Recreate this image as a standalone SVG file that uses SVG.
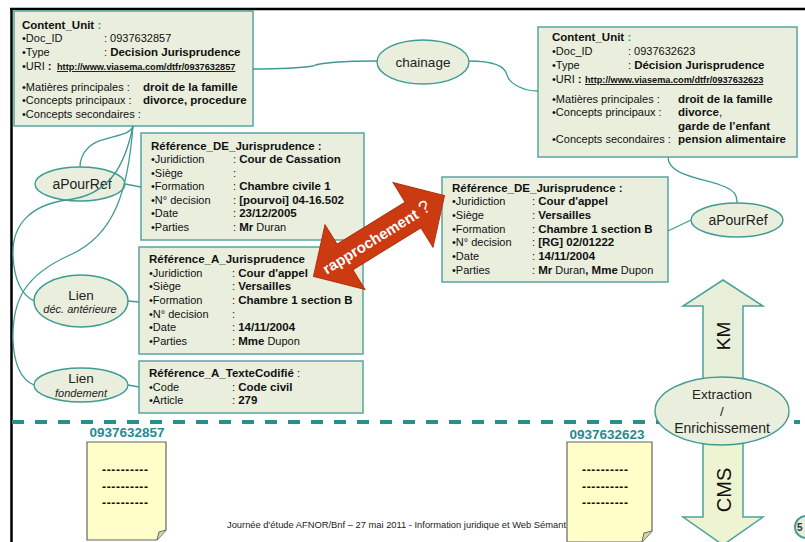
<svg xmlns="http://www.w3.org/2000/svg" width="805" height="542" viewBox="0 0 805 542">
<style>
.box{fill:#e9eedd;stroke:#56a7a0;stroke-width:1.5}
.ell{fill:#e9eedd;stroke:#3f9b94;stroke-width:1.4}
.t{font-family:"Liberation Sans",Arial,sans-serif;font-size:11px;fill:#111}
.b{font-weight:bold;font-size:11.5px}
.url{font-family:"Liberation Sans",Arial,sans-serif;font-weight:bold;font-size:9.2px;text-decoration:underline;fill:#111}
.conn{fill:none;stroke:#3f9b94;stroke-width:1.3}
.el{font-family:"Liberation Sans",Arial,sans-serif;fill:#222;text-anchor:middle}
.doc{fill:#fffdc8;stroke:#666;stroke-width:1.2}
.dash{font-family:"Liberation Sans",Arial,sans-serif;font-size:12px;font-weight:bold;fill:#111;text-anchor:middle}
.lab{font-family:"Liberation Sans",Arial,sans-serif;font-size:13.5px;font-weight:bold;fill:#1f8c8f;text-anchor:middle}
.big{fill:#e8efd9;stroke:#4aa39c;stroke-width:1.5}
</style>

<g id="frame">
<line x1="10" y1="9" x2="805" y2="9" stroke="#000" stroke-width="2.5"/>
<line x1="11.5" y1="8" x2="11.5" y2="542" stroke="#000" stroke-width="2.5"/>
</g>

<g id="content-unit-1">
<rect class="box" x="14" y="11" width="239" height="115"/>
<text class="t" x="22" y="29"><tspan class="b">Content_Unit</tspan><tspan class="b" fill="#2f9a9a"> :</tspan></text>
<text class="t" x="22" y="42">•Doc_ID</text><text class="t" x="104" y="42">: 0937632857</text>
<text class="t" x="22" y="56">•Type</text><text class="t" x="104" y="56">: <tspan class="b">Decision Jurisprudence</tspan></text>
<text class="t" x="22" y="70">•URI <tspan class="b">:</tspan></text><text class="url" x="57" y="70">http://www.viasema.com/dtfr/0937632857</text>
<text class="t" x="22" y="91">•Matières principales :</text><text class="t b" x="143" y="91">droit de la famille</text>
<text class="t" x="22" y="104">•Concepts principaux :</text><text class="t b" x="143" y="104">divorce, procedure</text>
<text class="t" x="22" y="118">•Concepts secondaires :</text>
</g>

<g id="content-unit-2">
<rect class="box" x="538" y="27" width="259" height="130"/>
<text class="t" x="552" y="41"><tspan class="b">Content_Unit</tspan><tspan class="b" fill="#2f9a9a"> :</tspan></text>
<text class="t" x="552" y="55">•Doc_ID</text><text class="t" x="628" y="55">: 0937632623</text>
<text class="t" x="552" y="69">•Type</text><text class="t" x="628" y="69">: <tspan class="b">Décision Jurisprudence</tspan></text>
<text class="t" x="552" y="83">•URI <tspan class="b">:</tspan></text><text class="url" x="585" y="83">http://www.viasema.com/dtfr/0937632623</text>
<text class="t" x="552" y="103">•Matières principales :</text><text class="t b" x="678" y="103">droit de la famille</text>
<text class="t" x="552" y="116">•Concepts principaux :</text><text class="t b" x="678" y="116">divorce<tspan font-weight="normal">,</tspan></text>
<text class="t b" x="678" y="130">garde de l’enfant</text>
<text class="t" x="552" y="143">•Concepts secondaires :</text><text class="t b" x="678" y="143">pension alimentaire</text>
</g>

<g id="ref-de-juris-1">
<rect class="box" x="141" y="133" width="223" height="107"/>
<text class="t b" x="151" y="150">Référence_DE_Jurisprudence :</text>
<text class="t" x="151" y="163">•Juridiction</text><text class="t" x="233" y="163">: <tspan class="b">Cour de Cassation</tspan></text>
<text class="t" x="151" y="177">•Siège</text><text class="t" x="233" y="177">:</text>
<text class="t" x="151" y="190">•Formation</text><text class="t" x="233" y="190">: <tspan class="b">Chambre civile 1</tspan></text>
<text class="t" x="151" y="204">•N° decision</text><text class="t" x="233" y="204">: <tspan class="b">[pourvoi] 04-16.502</tspan></text>
<text class="t" x="151" y="217">•Date</text><text class="t" x="233" y="217">: <tspan class="b">23/12/2005</tspan></text>
<text class="t" x="151" y="231">•Parties</text><text class="t" x="233" y="231">: <tspan class="b">Mr</tspan> Duran</text>
</g>

<g id="ref-a-juris">
<rect class="box" x="139" y="247" width="224" height="107"/>
<text class="t b" x="149" y="263">Référence_A_Jurisprudence</text>
<text class="t" x="149" y="277">•Juridiction</text><text class="t" x="232" y="277">: <tspan class="b">Cour d'appel</tspan></text>
<text class="t" x="149" y="290">•Siège</text><text class="t" x="232" y="290">: <tspan class="b">Versailles</tspan></text>
<text class="t" x="149" y="304">•Formation</text><text class="t" x="232" y="304">: <tspan class="b">Chambre 1 section B</tspan></text>
<text class="t" x="149" y="318">•N° decision</text><text class="t" x="232" y="318">:</text>
<text class="t" x="149" y="331">•Date</text><text class="t" x="232" y="331">: <tspan class="b">14/11/2004</tspan></text>
<text class="t" x="149" y="345">•Parties</text><text class="t" x="232" y="345">: <tspan class="b">Mme</tspan> Dupon</text>
</g>

<g id="ref-a-texte">
<rect class="box" x="139" y="361" width="224" height="52"/>
<text class="t" x="149" y="377"><tspan class="b">Référence_A_TexteCodifié</tspan> :</text>
<text class="t" x="149" y="391">•Code</text><text class="t" x="232" y="391">: <tspan class="b">Code civil</tspan></text>
<text class="t" x="149" y="404">•Article</text><text class="t" x="232" y="404">: <tspan class="b">279</tspan></text>
</g>

<g id="ref-de-juris-2">
<rect class="box" x="442" y="177" width="226" height="105"/>
<text class="t b" x="452" y="192">Référence_DE_Jurisprudence :</text>
<text class="t" x="452" y="205">•Juridiction</text><text class="t" x="532" y="205">: <tspan class="b">Cour d'appel</tspan></text>
<text class="t" x="452" y="219">•Siège</text><text class="t" x="532" y="219">: <tspan class="b">Versailles</tspan></text>
<text class="t" x="452" y="233">•Formation</text><text class="t" x="532" y="233">: <tspan class="b">Chambre 1 section B</tspan></text>
<text class="t" x="452" y="246">•N° decision</text><text class="t" x="532" y="246">: <tspan class="b">[RG] 02/01222</tspan></text>
<text class="t" x="452" y="260">•Date</text><text class="t" x="532" y="260">: <tspan class="b">14/11/2004</tspan></text>
<text class="t" x="452" y="274">•Parties</text><text class="t" x="532" y="274">: <tspan class="b">Mr</tspan> Duran<tspan class="b">, Mme</tspan> Dupon</text>
</g>

<g id="chainage">
<ellipse class="ell" cx="423" cy="62" rx="46" ry="22"/>
<text class="el" x="423" y="67" font-size="13.5">chainage</text>
</g>
<g id="apourref-1">
<ellipse class="ell" cx="80" cy="184" rx="45" ry="17"/>
<text class="el" x="82" y="189" font-size="14">aPourRef</text>
</g>
<g id="lien-dec">
<ellipse class="ell" cx="81" cy="301" rx="47" ry="26"/>
<text class="el" x="81" y="300" font-size="13.5">Lien</text>
<text class="el" x="80" y="313" font-size="11" font-style="italic">déc. antérieure</text>
</g>
<g id="lien-fondement">
<ellipse class="ell" cx="81" cy="385" rx="47" ry="17"/>
<text class="el" x="81" y="383" font-size="13.5">Lien</text>
<text class="el" x="81" y="397" font-size="11" font-style="italic">fondement</text>
</g>
<g id="apourref-2">
<ellipse class="ell" cx="737" cy="220" rx="46" ry="17"/>
<text class="el" x="738" y="225" font-size="14">aPourRef</text>
</g>

<g id="connectors">
<path class="conn" d="M253,69 C290,69 300,68 313,66 C320,63 340,61 377,61"/>
<path class="conn" d="M469,61 C490,61 505,65 507,75 C510,85 525,91 538,91"/>
<path class="conn" d="M133,126 C130,138 100,135 88,148 C82,154 80,160 80,167"/>
<path class="conn" d="M133,126 C125,165 110,195 67,200 C30,205 12,225 13,255 C14,280 22,295 34,301"/>
<path class="conn" d="M133,126 C128,190 115,235 70,255 C25,275 12,300 13,340 C14,365 22,380 34,385"/>
<path class="conn" d="M125,184 L141,187"/>
<path class="conn" d="M128,301 L139,302"/>
<path class="conn" d="M128,385 L139,387"/>
<path class="conn" d="M668,157 C668,175 700,178 720,185 C735,190 737,195 737,203"/>
<path class="conn" d="M691,220 L668,231"/>
</g>

<g id="rapprochement" transform="translate(379,236) rotate(-31.7)">
<polygon points="-77,0 -40,-38 -40,-15 40,-15 40,-38 77,0 40,38 40,15 -40,15 -40,38" fill="#cc3a12" stroke="#b3300c" stroke-width="1"/>
<text x="-3" y="5.5" font-family="Liberation Sans, Arial, sans-serif" font-size="15" font-weight="bold" fill="#fff" text-anchor="middle">rapprochement <tspan font-weight="normal" font-size="18">?</tspan></text>
</g>

<line id="separator" x1="12" y1="422" x2="800" y2="422" stroke="#2a8f8a" stroke-width="4" stroke-dasharray="12 11"/>

<g id="km-arrow">
<polygon class="big" points="723,280 763,306 743,306 743,395 703,395 703,306 683,306"/>
<text transform="translate(730,336) rotate(-90)" font-family="Liberation Sans, Arial, sans-serif" font-size="19" fill="#111" text-anchor="middle">KM</text>
</g>
<g id="cms-arrow">
<polygon points="703,430 743,430 743,517 763,517 723,545 683,517 703,517" fill="#eef4d2" stroke="#4aa39c" stroke-width="1.5"/>
<text transform="translate(731,490) rotate(-90)" font-family="Liberation Sans, Arial, sans-serif" font-size="20" fill="#111" text-anchor="middle">CMS</text>
</g>
<g id="extraction">
<ellipse class="ell" cx="722" cy="411" rx="67" ry="34"/>
<text class="el" x="722" y="399" font-size="13.5">Extraction</text>
<text class="el" x="722" y="416" font-size="13.5">/</text>
<text class="el" x="722" y="433" font-size="14">Enrichissement</text>
</g>

<text id="footer" x="227" y="528" font-family="Liberation Sans, Arial, sans-serif" font-size="8.7" fill="#222" textLength="339" lengthAdjust="spacingAndGlyphs">Journée d'étude AFNOR/Bnf – 27 mai 2011 - Information juridique et Web Sémant</text>

<g id="doc-1">
<text class="lab" x="127" y="437">0937632857</text>
<path class="doc" d="M87,442 H166 V530 L157,540 H87 Z"/>
<path d="M166,530 L159,532 L157,540" fill="#d8d6a8" stroke="#666" stroke-width="1"/>
<text class="dash" x="125" y="474" textLength="46" lengthAdjust="spacing">----------</text>
<text class="dash" x="125" y="491" textLength="46" lengthAdjust="spacing">----------</text>
<text class="dash" x="125" y="507" textLength="46" lengthAdjust="spacing">----------</text>
</g>
<g id="doc-2">
<text class="lab" x="607" y="439">0937632623</text>
<path class="doc" d="M567,442 H652 V531 L642,542 H567 Z"/>
<path d="M652,531 L644,533 L642,542" fill="#d8d6a8" stroke="#666" stroke-width="1"/>
<text class="dash" x="605" y="474" textLength="46" lengthAdjust="spacing">----------</text>
<text class="dash" x="605" y="491" textLength="46" lengthAdjust="spacing">----------</text>
<text class="dash" x="605" y="507" textLength="46" lengthAdjust="spacing">----------</text>
</g>

<g id="page-badge">
<circle cx="806" cy="527" r="11" fill="#e8eedd" stroke="#4a9c96" stroke-width="2"/>
<text x="797" y="531" font-family="Liberation Sans, Arial, sans-serif" font-size="10" font-weight="bold" fill="#333">5</text>
</g>
</svg>
